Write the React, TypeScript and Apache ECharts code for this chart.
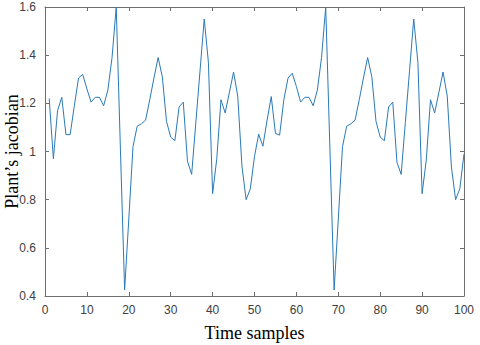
import React, { useEffect, useRef } from "react";
import * as echarts from "echarts";

const samples: number[] = Array.from({ length: 100 }, (_, k) => k + 1);
const jacobian: number[] = [
  1.22, 0.97, 1.17, 1.225, 1.07, 1.07, 1.19, 1.305, 1.32, 1.26,
  1.205, 1.225, 1.225, 1.19, 1.255, 1.39, 1.6, 1.01, 0.425, 0.72,
  1.02, 1.105, 1.115, 1.13, 1.215, 1.305, 1.39, 1.31, 1.125, 1.06,
  1.045, 1.185, 1.205, 0.96, 0.905, 1.12, 1.335, 1.55, 1.37, 0.825,
  0.97, 1.215, 1.16, 1.245, 1.33, 1.23, 0.94, 0.8, 0.845, 0.98,
  1.072, 1.022, 1.13, 1.228, 1.075, 1.068, 1.215, 1.305, 1.325, 1.27,
  1.205, 1.225, 1.225, 1.19, 1.255, 1.39, 1.6, 1.01, 0.425, 0.72,
  1.02, 1.105, 1.115, 1.13, 1.215, 1.305, 1.39, 1.31, 1.125, 1.06,
  1.045, 1.185, 1.205, 0.955, 0.905, 1.12, 1.335, 1.55, 1.37, 0.825,
  0.965, 1.215, 1.16, 1.245, 1.33, 1.23, 0.935, 0.8, 0.845, 0.99,
];
const xTicks = { min: 0, max: 100, interval: 10 };
const yTicks = { min: 0.4, max: 1.6, interval: 0.2 };
const xTitle = "Time samples";
const yTitle = "Plant\u2019s jacobian";

export default function App() {
  const ref = useRef<HTMLDivElement>(null);
  useEffect(() => {
    if (!ref.current) return;
    const chart = echarts.init(ref.current, null, { renderer: "svg" });
    const axisColor = "#6e6e6e";
    const labelStyle = {
      color: "#404040",
      fontFamily: "Liberation Sans, Arial, sans-serif",
      fontSize: 12,
    };
    const titleStyle = {
      color: "#000",
      fontFamily: "Liberation Serif, Times New Roman, serif",
      fontSize: 18,
    };
    const fmt = (v: number) => String(parseFloat(v.toFixed(1)));
    chart.setOption({
      animation: false,
      backgroundColor: "#fff",
      grid: {
        left: 45,
        right: 16,
        top: 7,
        bottom: 49,
        show: false,
        containLabel: false,
        outerBoundsMode: "none",
      },
      xAxis: [
        {
          type: "value",
          ...xTicks,
          position: "bottom",
          name: xTitle,
          nameLocation: "middle",
          nameGap: 28,
          nameMoveOverlap: false,
          nameTextStyle: titleStyle,
          axisLine: { show: true, onZero: false, lineStyle: { color: axisColor, width: 1 } },
          axisTick: { show: true, inside: true, length: 4, lineStyle: { color: axisColor } },
          axisLabel: { ...labelStyle, margin: 8, formatter: fmt },
          splitLine: { show: false },
        },
        {
          type: "value",
          ...xTicks,
          position: "top",
          axisLine: { show: true, onZero: false, lineStyle: { color: axisColor, width: 1 } },
          axisTick: { show: true, inside: true, length: 4, lineStyle: { color: axisColor } },
          axisLabel: { show: false },
          splitLine: { show: false },
        },
      ],
      yAxis: [
        {
          type: "value",
          ...yTicks,
          position: "left",
          name: yTitle,
          nameLocation: "middle",
          nameGap: 24,
          nameMoveOverlap: false,
          nameTextStyle: titleStyle,
          axisLine: { show: true, onZero: false, lineStyle: { color: axisColor, width: 1 } },
          axisTick: { show: true, inside: true, length: 4, lineStyle: { color: axisColor } },
          axisLabel: { ...labelStyle, margin: 9, formatter: fmt },
          splitLine: { show: false },
        },
        {
          type: "value",
          ...yTicks,
          position: "right",
          axisLine: { show: true, onZero: false, lineStyle: { color: axisColor, width: 1 } },
          axisTick: { show: true, inside: true, length: 4, lineStyle: { color: axisColor } },
          axisLabel: { show: false },
          splitLine: { show: false },
        },
      ],
      series: [
        {
          type: "line",
          xAxisIndex: 0,
          yAxisIndex: 0,
          data: samples.map((s, k) => [s, jacobian[k]]),
          showSymbol: false,
          symbol: "none",
          lineStyle: { color: "#2a7ab8", width: 1 },
          clip: false,
        },
      ],
    });
    return () => chart.dispose();
  }, []);
  return (
    <div
      ref={ref}
      style={{ width: 480, height: 345, position: "absolute", left: 0, top: 0 }}
    />
  );
}
